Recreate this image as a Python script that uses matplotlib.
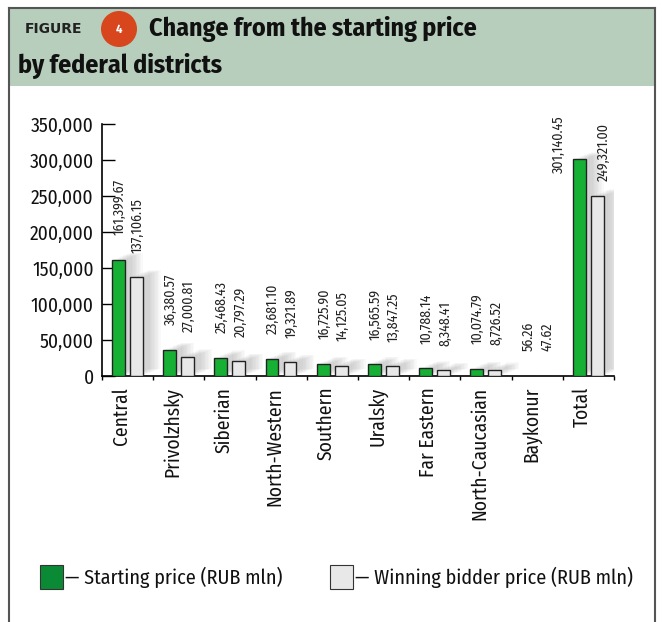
import matplotlib
matplotlib.use("Agg")
import matplotlib.pyplot as plt
import matplotlib.patheffects as pe
from matplotlib.patches import Rectangle, Ellipse
import numpy as np

districts = ["Central", "Privolzhsky", "Siberian", "North-Western", "Southern",
             "Uralsky", "Far Eastern", "North-Caucasian", "Baykonur", "Total"]
starting_price = [161399.67, 36380.57, 25468.43, 23681.10, 16725.90,
                  16565.59, 10788.14, 10074.79, 56.26, 301140.45]
winning_price = [137106.15, 27000.81, 20797.29, 19321.89, 14125.05,
                 13847.25, 8348.41, 8726.52, 47.62, 249321.00]
yticks = [0, 50000, 100000, 150000, 200000, 250000, 300000, 350000]

cond = "Fira Sans Condensed"
green = "#16b035"
grey = "#e8e8e8"

fig = plt.figure(figsize=(6.62, 6.22), dpi=100)
W, H = 662, 622


# helpers: figure pixel coords (from top-left) -> figure fraction
def fx(x):
    return x / W


def fy(y):
    return 1 - y / H


fig.patches.append(Rectangle((fx(9), fy(86)), fx(655) - fx(9), fy(8) - fy(86),
                             transform=fig.transFigure, facecolor="#b6cebb",
                             edgecolor="none", zorder=0))
for xs, ys in [([9, 9], [8, 622]), ([655, 655], [8, 622]), ([9, 655], [8, 8])]:
    fig.add_artist(plt.Line2D([fx(v) for v in xs], [fy(v) for v in ys],
                              transform=fig.transFigure, color="#555555", lw=1.5))

fig.text(fx(25), fy(29), "FIGURE", fontsize=10, fontweight="bold", family="DejaVu Sans",
         va="center", ha="left", color="#222222")
fig.patches.append(Ellipse((fx(119), fy(29)), 36 / W, 36 / H, transform=fig.transFigure,
                           facecolor="#d8461d", edgecolor="none"))
fig.text(fx(119), fy(29), "4", fontsize=9, fontweight="bold", color="white",
         ha="center", va="center", family=cond)
fig.text(fx(149), fy(36), "Change from the starting price", fontsize=18.6,
         fontweight="bold", family=cond, va="baseline", ha="left", color="#111111")
fig.text(fx(18), fy(73), "by federal districts", fontsize=18.6, fontweight="bold",
         family=cond, va="baseline", ha="left", color="#111111")

ax = fig.add_axes([fx(102), fy(376), fx(614) - fx(102), fy(124) - fy(376)])
x = np.arange(len(districts))
w = 0.25
shadow = [pe.SimplePatchShadow(offset=(k, 0.4 * k), shadow_rgbFace="#7a7a7a", alpha=0.04)
          for k in range(2, 14)] + [pe.Normal()]
ax.bar(x - 0.18, starting_price, w, color=green, edgecolor="#222222", lw=1,
       zorder=3, path_effects=shadow)
ax.bar(x + 0.17, winning_price, w, color=grey, edgecolor="#222222", lw=1,
       zorder=3, path_effects=shadow)

top = 350000
for i in range(len(districts)):
    for xo, v in [(-0.16, starting_price[i]), (0.2, winning_price[i])]:
        y = v + 34000
        if y + 95000 > top:
            # no room above: put the label beside the bar
            y = 282000 if xo < 0 else 271000
            xo = xo - 0.42 if xo < 0 else xo + 0.1
        ax.text(i + xo, y, f"{v:,.2f}", rotation=90, ha="center", va="bottom",
                fontsize=10, family=cond, color="#222222")

ax.set_xlim(-0.5, len(districts) - 0.5)
ax.set_ylim(0, top)
ax.set_yticks(yticks)
ax.set_yticklabels([f"{t:,}" for t in yticks], fontsize=14, family=cond,
                   color="#111111")
ax.tick_params(axis="y", direction="in", length=9.5, width=1, pad=6)
ax.set_xticks(np.arange(len(districts) + 1) - 0.5)
ax.set_xticklabels([])
ax.tick_params(axis="x", direction="out", length=3, width=1)
for i, name in enumerate(districts):
    ax.text(i - 0.12, -15000, name, rotation=90, ha="center", va="top",
            fontsize=14, family=cond, color="#111111")
for s in ["top", "right"]:
    ax.spines[s].set_visible(False)
ax.spines["left"].set_linewidth(1.2)
ax.spines["bottom"].set_linewidth(1.2)

# legend
fig.patches.append(Rectangle((fx(40), fy(589)), fx(63) - fx(40), fy(565) - fy(589),
                             transform=fig.transFigure, facecolor="#0b8a36",
                             edgecolor="#333333", lw=0.8))
fig.text(fx(65), fy(577), "— Starting price (RUB mln)", fontsize=14.5, family=cond,
         va="center", ha="left", color="#111111")
fig.patches.append(Rectangle((fx(330), fy(589)), fx(353) - fx(330), fy(565) - fy(589),
                             transform=fig.transFigure, facecolor=grey,
                             edgecolor="#333333", lw=0.8))
fig.text(fx(355), fy(577), "— Winning bidder price (RUB mln)", fontsize=14.5,
         family=cond, va="center", ha="left", color="#111111")

fig.savefig("out.png", dpi=100)
